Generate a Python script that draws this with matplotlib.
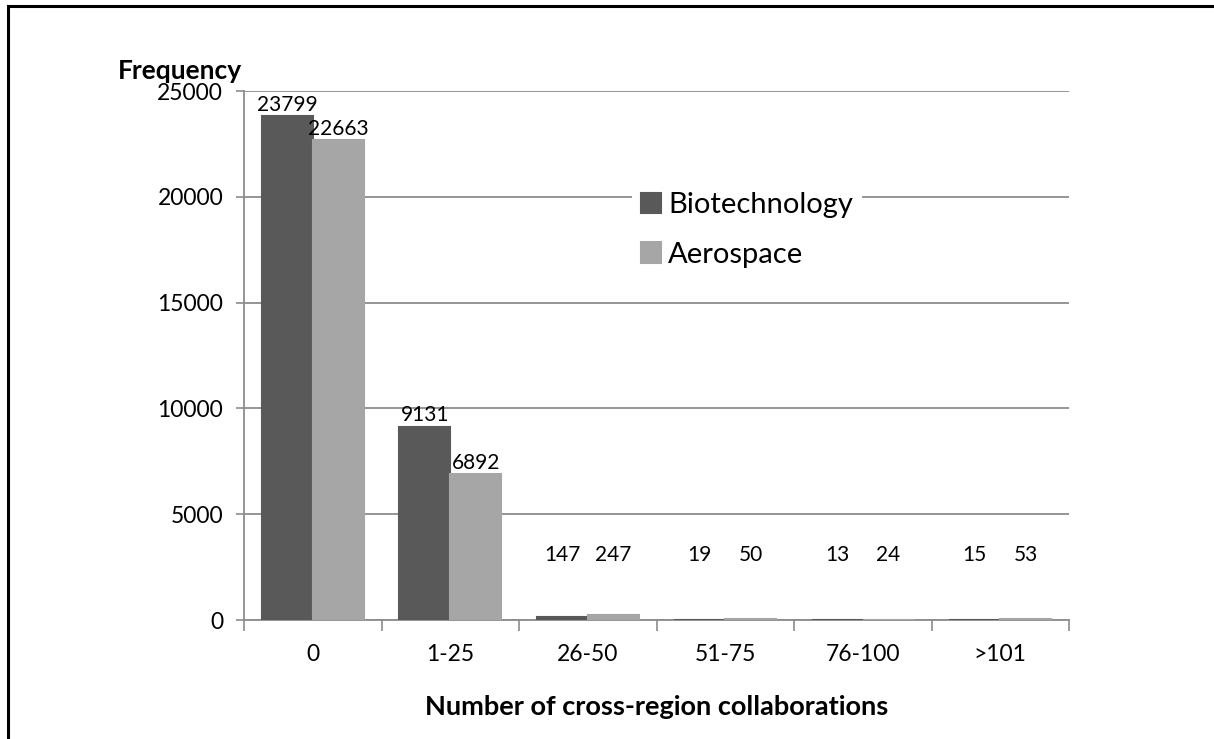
import matplotlib.pyplot as plt
import numpy as np
from matplotlib.patches import Rectangle

categories = ['0', '1-25', '26-50', '51-75', '76-100', '>101']
biotech = [23799, 9131, 147, 19, 13, 15]
aero = [22663, 6892, 247, 50, 24, 53]
series_names = ['Biotechnology', 'Aerospace']

plt.rcParams['font.family'] = ['Lato', 'DejaVu Sans']

c_dark = '#595959'
c_light = '#a6a6a6'
c_grid = '#8c8c8c'

fig = plt.figure(figsize=(12.14, 7.39), dpi=100)
ax = fig.add_axes([0.201, 0.161, 0.6796, 0.7158])

x = np.arange(len(categories))
w = 0.37
b1 = ax.bar(x - w / 2, biotech, w, color=c_dark, edgecolor=c_dark, lw=1.5,
            label=series_names[0], zorder=3)
b2 = ax.bar(x + w / 2, aero, w, color=c_light, edgecolor=c_light, lw=1.5,
            label=series_names[1], zorder=3)

# value labels; the small ones sit a bit higher like in the original
for bars, vals in ((b1, biotech), (b2, aero)):
    for rect, v in zip(bars, vals):
        ax.annotate(str(v), (rect.get_x() + rect.get_width() / 2, max(v, 2550)),
                    xytext=(0, 1), textcoords='offset points',
                    ha='center', va='bottom', fontsize=15, zorder=4)

ax.set_ylim(0, 25000)
ax.set_xlim(-0.5, len(categories) - 0.5)
ax.set_yticks(np.arange(0, 25001, 5000))
ax.yaxis.grid(True, color=c_grid, lw=1.3, zorder=0)
ax.set_axisbelow(True)

ax.set_xticks(x)
ax.set_xticklabels(categories)
ax.set_xticks(np.arange(-0.5, len(categories), 1), minor=True)
ax.tick_params(axis='x', which='major', length=0, pad=17, labelsize=16.5)
ax.tick_params(axis='x', which='minor', length=8, width=1.2, color=c_grid)
ax.tick_params(axis='y', length=6, width=1.2, color=c_grid, pad=9, labelsize=16.5)

for s in ('top', 'right'):
    ax.spines[s].set_visible(False)
for s in ('left', 'bottom'):
    ax.spines[s].set_color(c_grid)
    ax.spines[s].set_linewidth(1.3)

ax.set_xlabel('Number of cross-region collaborations', fontsize=19.5,
              fontweight='bold', labelpad=22)
fig.text(0.097, 1 - 79 / 739, 'Frequency', fontsize=19, fontweight='bold',
         ha='left', va='baseline')

leg = ax.legend(loc='upper left', bbox_to_anchor=(0.47, 0.825), fontsize=21,
                frameon=True, facecolor='white', edgecolor='none', framealpha=1,
                handlelength=0.7, handleheight=0.7, handletextpad=0.25,
                labelspacing=0.8, borderpad=0.3, borderaxespad=0)
leg.get_frame().set_boxstyle('square', pad=0)

# outer frame of the figure (cut at right and bottom)
fig.patches.append(Rectangle((8 / 1214, -0.05), 1.1, 1.05 - 6 / 739,
                             transform=fig.transFigure, fill=False,
                             edgecolor='black', lw=2.2, clip_on=False))

plt.savefig('out.png', dpi=100)
